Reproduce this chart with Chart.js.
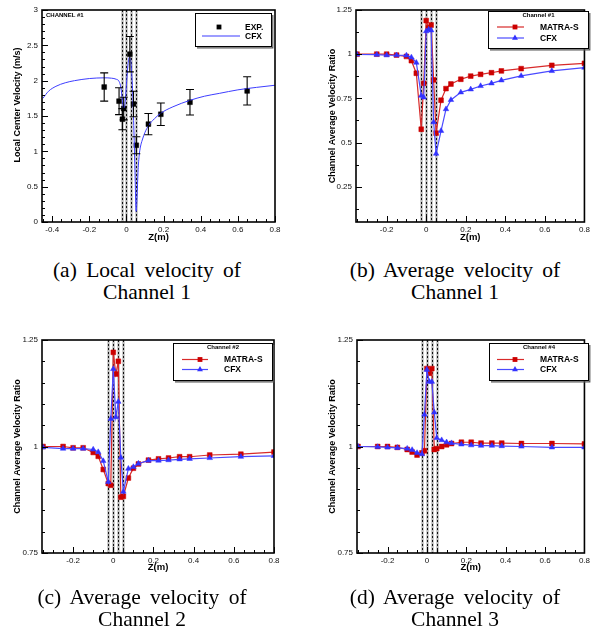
<!DOCTYPE html>
<html><head><meta charset="utf-8">
<script src="https://cdn.jsdelivr.net/npm/chart.js@4.4.0/dist/chart.umd.min.js"></script>
<style>
body{margin:0;background:#fff;width:593px;height:637px;position:relative;overflow:hidden}
.p{position:absolute}
.cap{position:absolute;font-family:'Liberation Serif','Times New Roman',serif;font-size:21.5px;line-height:22px;text-align:center;color:#000;white-space:nowrap;width:300px}
.cap .l1{word-spacing:4px}
</style></head><body>
<div class="p" style="left:0;top:0"><canvas id="ca"></canvas></div>
<div class="p" style="left:300px;top:0"><canvas id="cb"></canvas></div>
<div class="p" style="left:0;top:330px"><canvas id="cc"></canvas></div>
<div class="p" style="left:300px;top:330px"><canvas id="cd"></canvas></div>
<div class="cap" style="left:-3px;top:259px"><span class="l1">(a) Local velocity of</span><br>Channel 1</div>
<div class="cap" style="left:305px;top:259px"><span class="l1">(b) Average velocity of</span><br>Channel 1</div>
<div class="cap" style="left:-8px;top:586px"><span class="l1">(c) Average velocity of</span><br>Channel 2</div>
<div class="cap" style="left:305px;top:586px"><span class="l1">(d) Average velocity of</span><br>Channel 3</div>
<script>
// ---------- data ----------
const zPos = [-0.35,-0.25,-0.2,-0.15,-0.1,-0.075,-0.05,-0.025,-0.0125,0,0.0125,0.025,0.0375,0.05,0.075,0.1,0.125,0.175,0.225,0.275,0.33,0.38,0.48,0.635,0.8];
const ch1Matra = [1.0,1.0,1.0,0.995,0.987,0.963,0.892,0.575,0.835,1.19,1.15,1.165,0.854,0.553,0.739,0.805,0.831,0.858,0.876,0.886,0.895,0.905,0.918,0.937,0.948];
const ch1Cfx   = [0.998,0.997,0.994,0.994,0.993,0.982,0.952,0.765,0.755,1.13,1.14,1.135,0.615,0.437,0.566,0.689,0.741,0.784,0.801,0.82,0.835,0.852,0.877,0.905,0.924];
const ch2Matra = [1.0,1.0,0.997,0.997,0.986,0.977,0.946,0.913,0.909,1.221,1.17,1.2,0.881,0.883,0.926,0.949,0.959,0.968,0.971,0.973,0.976,0.976,0.98,0.982,0.987];
const ch2Cfx   = [0.998,0.995,0.995,0.995,0.993,0.987,0.966,0.917,1.065,1.182,1.069,1.105,0.974,0.894,0.948,0.952,0.96,0.967,0.967,0.968,0.97,0.971,0.973,0.976,0.978];
const ch4Matra = [1.0,1.0,1.0,0.998,0.993,0.987,0.98,0.985,0.99,1.183,1.172,1.183,0.993,0.995,1.0,1.004,1.007,1.01,1.01,1.008,1.008,1.008,1.007,1.007,1.006];
const ch4Cfx   = [1.0,0.999,0.998,0.997,0.995,0.992,0.985,0.982,1.075,1.18,1.152,1.152,1.08,1.02,1.015,1.01,1.008,1.005,1.003,1.002,1.002,1.001,1.0,0.998,0.998];

const expZ   = [-0.12,-0.04,-0.022,-0.015,0.018,0.038,0.053,0.118,0.185,0.342,0.65];
const expV   = [1.91,1.71,1.455,1.605,2.375,1.67,1.086,1.385,1.525,1.695,1.855];
const expErr = [0.2,0.19,0.15,0.16,0.25,0.18,0.12,0.15,0.16,0.18,0.2];

const cfxLocalZ = [-0.45,-0.42,-0.38,-0.33,-0.28,-0.2,-0.12,-0.08,-0.055,-0.04,-0.03,-0.022,-0.015,-0.008,0,0.008,0.015,0.022,0.028,0.034,0.04,0.046,0.052,0.057,0.062,0.068,0.075,0.085,0.1,0.12,0.15,0.185,0.25,0.34,0.42,0.5,0.6,0.7,0.8];
const cfxLocalV = [1.75,1.85,1.92,1.97,2.0,2.03,2.04,2.035,2.02,1.99,1.9,1.72,1.6,1.68,1.95,2.22,2.33,2.3,2.1,1.8,1.3,0.7,0.15,0.35,0.7,0.93,1.06,1.16,1.27,1.37,1.46,1.54,1.63,1.72,1.78,1.82,1.87,1.905,1.935];

const xTicksA = [-0.4,-0.2,0,0.2,0.4,0.6,0.8];
const yTicksA = [0,0.5,1,1.5,2,2.5,3];
const xTicksB = [-0.2,0,0.2,0.4,0.6,0.8];
const yTicksB = [0.25,0.5,0.75,1,1.25];
const yTicksC = [0.75,1,1.25];
const spacerZ = [-0.025,0,0.025,0.05];

// ---------- styles ----------
const RED='#cc0000', RED_L='#d82a2a', BLUE='#3232ff', BLUE_L='#4a4aff';
const FONT='Liberation Sans, Arial, sans-serif';

function pts(xs,ys){return xs.map((x,i)=>({x:x,y:ys[i]}));}
function matraDs(vals){return {label:'MATRA-S',data:pts(zPos,vals),showLine:true,borderColor:RED_L,borderWidth:1.2,pointStyle:'rect',pointRadius:3.4,pointBackgroundColor:RED,pointBorderColor:RED,pointBorderWidth:0.5};}
function cfxDs(vals){return {label:'CFX',data:pts(zPos,vals),showLine:true,borderColor:BLUE_L,borderWidth:1.2,pointStyle:'triangle',pointRadius:3.2,pointBackgroundColor:BLUE,pointBorderColor:BLUE,pointBorderWidth:0.5};}

const deco = {
  ca:{vlines:spacerZ,xmajor:xTicksA,xminor:0.05,ymajor:yTicksA,yminor:0.1,xTitleY:237,yTitle:'Local Center Velocity (m/s)',yTitleX:18,yTitleY:105,
      note:'CHANNEL #1',noteXY:[46,15],err:true,
      legend:{box:[195,13,272,47],title:null,lineX:[202,240],markerX:219,textX:245,
        entries:[{label:'EXP.',marker:'rect',color:'#000',line:false,y:27},{label:'CFX',marker:null,color:'#3d3dff',line:true,y:36}]}},
  cb:{vlines:spacerZ,xmajor:xTicksB,xminor:0.05,ymajor:yTicksB,yminor:0.125,xTitleY:237,yTitle:'Channel Average Velocity Ratio',yTitleX:33,
      legend:{box:[188,11,289,49],title:'Channel #1',titleY:15.5,lineX:[197,224],markerX:215,textX:240,
        entries:[{label:'MATRA-S',marker:'rect',color:RED,lcolor:RED_L,line:true,y:27},{label:'CFX',marker:'triangle',color:BLUE,lcolor:BLUE_L,line:true,y:38}]}},
  cc:{vlines:spacerZ,xmajor:xTicksB,xminor:0.05,ymajor:yTicksC,yminor:0.05,xTitleY:237,yTitle:'Channel Average Velocity Ratio',yTitleX:18,
      legend:{box:[173,13,273,51],title:'Channel #2',titleY:17,lineX:[182,208],markerX:200,textX:224,
        entries:[{label:'MATRA-S',marker:'rect',color:RED,lcolor:RED_L,line:true,y:29.5},{label:'CFX',marker:'triangle',color:BLUE,lcolor:BLUE_L,line:true,y:39.5}]}},
  cd:{vlines:spacerZ,xmajor:xTicksB,xminor:0.05,ymajor:yTicksC,yminor:0.05,xTitleY:237,yTitle:'Channel Average Velocity Ratio',yTitleX:33,
      legend:{box:[189,13,289,51],title:'Channel #4',titleY:17,lineX:[197,224],markerX:215,textX:240,
        entries:[{label:'MATRA-S',marker:'rect',color:RED,lcolor:RED_L,line:true,y:29.5},{label:'CFX',marker:'triangle',color:BLUE,lcolor:BLUE_L,line:true,y:39.5}]}}
};

function marker(ctx,type,x,y,r,color){
  ctx.fillStyle=color;
  ctx.beginPath();
  if(type==='rect'){const s=r*Math.SQRT1_2;ctx.rect(x-s,y-s,2*s,2*s);}
  else if(type==='triangle'){ctx.moveTo(x,y-r);ctx.lineTo(x+r*0.87,y+r*0.5);ctx.lineTo(x-r*0.87,y+r*0.5);ctx.closePath();}
  ctx.fill();
}

const decor = {
  id:'decor',
  beforeDatasetsDraw(chart){
    const o=deco[chart.canvas.id]; if(!o) return;
    const {ctx,chartArea:a,scales:{x}}=chart;
    ctx.save();
    ctx.beginPath();ctx.rect(a.left,a.top,a.right-a.left,a.bottom-a.top);ctx.clip();
    for(const v of o.vlines){
      const px=Math.round(x.getPixelForValue(v))+0.5;
      ctx.setLineDash([]);ctx.strokeStyle='#b8b8b8';ctx.lineWidth=2.4;
      ctx.beginPath();ctx.moveTo(px,a.top);ctx.lineTo(px,a.bottom);ctx.stroke();
      ctx.setLineDash([2,2]);ctx.strokeStyle='#111';ctx.lineWidth=1;
      ctx.beginPath();ctx.moveTo(px,a.top);ctx.lineTo(px,a.bottom);ctx.stroke();
    }
    ctx.restore();
  },
  afterDatasetsDraw(chart){
    const o=deco[chart.canvas.id]; if(!o) return;
    const {ctx,chartArea:a,scales:{x,y}}=chart;
    ctx.save();
    // error bars
    if(o.err){
      ctx.strokeStyle='#000';ctx.lineWidth=1.1;
      expZ.forEach((z,i)=>{
        const px=x.getPixelForValue(z), t=y.getPixelForValue(expV[i]+expErr[i]), b=y.getPixelForValue(expV[i]-expErr[i]);
        ctx.beginPath();ctx.moveTo(px,t);ctx.lineTo(px,b);
        ctx.moveTo(px-4,t);ctx.lineTo(px+4,t);ctx.moveTo(px-4,b);ctx.lineTo(px+4,b);ctx.stroke();
      });
    }
    // ticks
    ctx.strokeStyle='#000';ctx.lineWidth=1;
    const step=(mn,mx,st)=>{const r=[];for(let k=Math.ceil(mn/st-1e-6);k<=Math.floor(mx/st+1e-6);k++)r.push(k*st);return r;};
    ctx.beginPath();
    for(const v of step(x.min,x.max,o.xminor)){const px=Math.round(x.getPixelForValue(v))+0.5;ctx.moveTo(px,a.bottom);ctx.lineTo(px,a.bottom-3);}
    for(const v of o.xmajor){const px=Math.round(x.getPixelForValue(v))+0.5;ctx.moveTo(px,a.bottom);ctx.lineTo(px,a.bottom-6);}
    for(const v of step(y.min,y.max,o.yminor)){const py=Math.round(y.getPixelForValue(v))+0.5;ctx.moveTo(a.left,py);ctx.lineTo(a.left+3,py);}
    for(const v of o.ymajor){const py=Math.round(y.getPixelForValue(v))+0.5;ctx.moveTo(a.left,py);ctx.lineTo(a.left+6,py);}
    ctx.stroke();
    // frame
    ctx.lineWidth=1.6;ctx.strokeStyle='#000';
    ctx.strokeRect(a.left,a.top,a.right-a.left,a.bottom-a.top);
    // note
    ctx.fillStyle='#000';
    if(o.note){ctx.font='bold 6px '+FONT;ctx.textAlign='left';ctx.textBaseline='middle';ctx.fillText(o.note,o.noteXY[0],o.noteXY[1]);}
    // legend
    const L=o.legend;
    if(L){
      const [x1,y1,x2,y2]=L.box;
      ctx.fillStyle='#fff';ctx.fillRect(x1,y1,x2-x1,y2-y1);
      ctx.strokeStyle='#000';ctx.lineWidth=1;ctx.strokeRect(x1+0.5,y1+0.5,x2-x1-1,y2-y1-1);
      ctx.strokeStyle='#555';ctx.lineWidth=1.2;
      ctx.beginPath();ctx.moveTo(x1+2,y2+0.8);ctx.lineTo(x2+0.8,y2+0.8);ctx.lineTo(x2+0.8,y1+2);ctx.stroke();
      ctx.fillStyle='#000';ctx.textBaseline='middle';
      if(L.title){ctx.font='bold 6px '+FONT;ctx.textAlign='center';ctx.fillText(L.title,(x1+x2)/2,L.titleY);}
      for(const e of L.entries){
        if(e.line){ctx.strokeStyle=e.lcolor||e.color;ctx.lineWidth=1.2;ctx.beginPath();ctx.moveTo(L.lineX[0],e.y);ctx.lineTo(L.lineX[1],e.y);ctx.stroke();}
        if(e.marker)marker(ctx,e.marker,L.markerX,e.y,3.4,e.color);
        ctx.fillStyle='#000';ctx.font='bold 8.5px '+FONT;ctx.textAlign='left';ctx.fillText(e.label,L.textX,e.y+0.5);
      }
    }
    // axis titles
    ctx.fillStyle='#000';ctx.font='bold 9.5px '+FONT;ctx.textAlign='center';ctx.textBaseline='middle';
    ctx.fillText('Z(m)',(a.left+a.right)/2,o.xTitleY);
    ctx.save();
    ctx.translate(o.yTitleX,o.yTitleY||(a.top+a.bottom)/2);ctx.rotate(-Math.PI/2);
    ctx.font='bold 9px '+FONT;ctx.fillText(o.yTitle,0,0);
    ctx.restore();
    ctx.restore();
  }
};

function fmt(v){return String(Math.round(v*1000)/1000);}
function makeChart(id,w,h,c){
  const cv=document.getElementById(id);cv.width=w;cv.height=h;cv.style.width=w+'px';cv.style.height=h+'px';
  const tickFont={family:FONT,size:8};
  return new Chart(cv,{
    type:'scatter',
    data:{datasets:c.datasets},
    options:{
      responsive:false,animation:false,devicePixelRatio:1,
      layout:{autoPadding:false,padding:{left:0,top:c.top,right:c.right,bottom:0}},
      plugins:{legend:{display:false},tooltip:{enabled:false}},
      scales:{
        x:{type:'linear',min:c.xmin,max:c.xmax,
           afterBuildTicks:s=>{s.ticks=c.xt.map(v=>({value:v}));},
           afterFit:s=>{s.height=c.xh;},
           grid:{display:false,drawTicks:false},border:{display:false},
           ticks:{font:tickFont,color:'#111',padding:3,maxRotation:0,autoSkip:false,callback:v=>fmt(v)}},
        y:{type:'linear',min:c.ymin,max:c.ymax,
           afterBuildTicks:s=>{s.ticks=c.yt.map(v=>({value:v}));},
           afterFit:s=>{s.width=c.yw;},
           grid:{display:false,drawTicks:false},border:{display:false},
           ticks:{font:tickFont,color:'#111',padding:4,autoSkip:false,callback:v=>fmt(v)}}
      }
    },
    plugins:[decor]
  });
}

makeChart('ca',296,250,{top:10,right:21,xh:28,yw:42,xmin:-0.455,xmax:0.8,ymin:0,ymax:3,xt:xTicksA,yt:yTicksA,
  datasets:[
    {label:'CFX',data:pts(cfxLocalZ,cfxLocalV),showLine:true,borderColor:'#3d3dff',borderWidth:1,pointRadius:0,cubicInterpolationMode:'monotone'},
    {label:'EXP.',data:pts(expZ,expV),showLine:false,pointStyle:'rect',pointRadius:3.4,pointBackgroundColor:'#000',pointBorderColor:'#000',pointBorderWidth:0.5}
  ]});
makeChart('cb',293,250,{top:10,right:4,xh:28,yw:56,xmin:-0.355,xmax:0.8,ymin:0.05,ymax:1.25,xt:xTicksB,yt:yTicksB,
  datasets:[cfxDs(ch1Cfx),matraDs(ch1Matra)]});
makeChart('cc',296,260,{top:10,right:22,xh:37,yw:42,xmin:-0.355,xmax:0.8,ymin:0.75,ymax:1.25,xt:xTicksB,yt:yTicksC,
  datasets:[cfxDs(ch2Cfx),matraDs(ch2Matra)]});
makeChart('cd',293,260,{top:10,right:4,xh:37,yw:57,xmin:-0.355,xmax:0.8,ymin:0.75,ymax:1.25,xt:xTicksB,yt:yTicksC,
  datasets:[cfxDs(ch4Cfx),matraDs(ch4Matra)]});
</script>
</body></html>
